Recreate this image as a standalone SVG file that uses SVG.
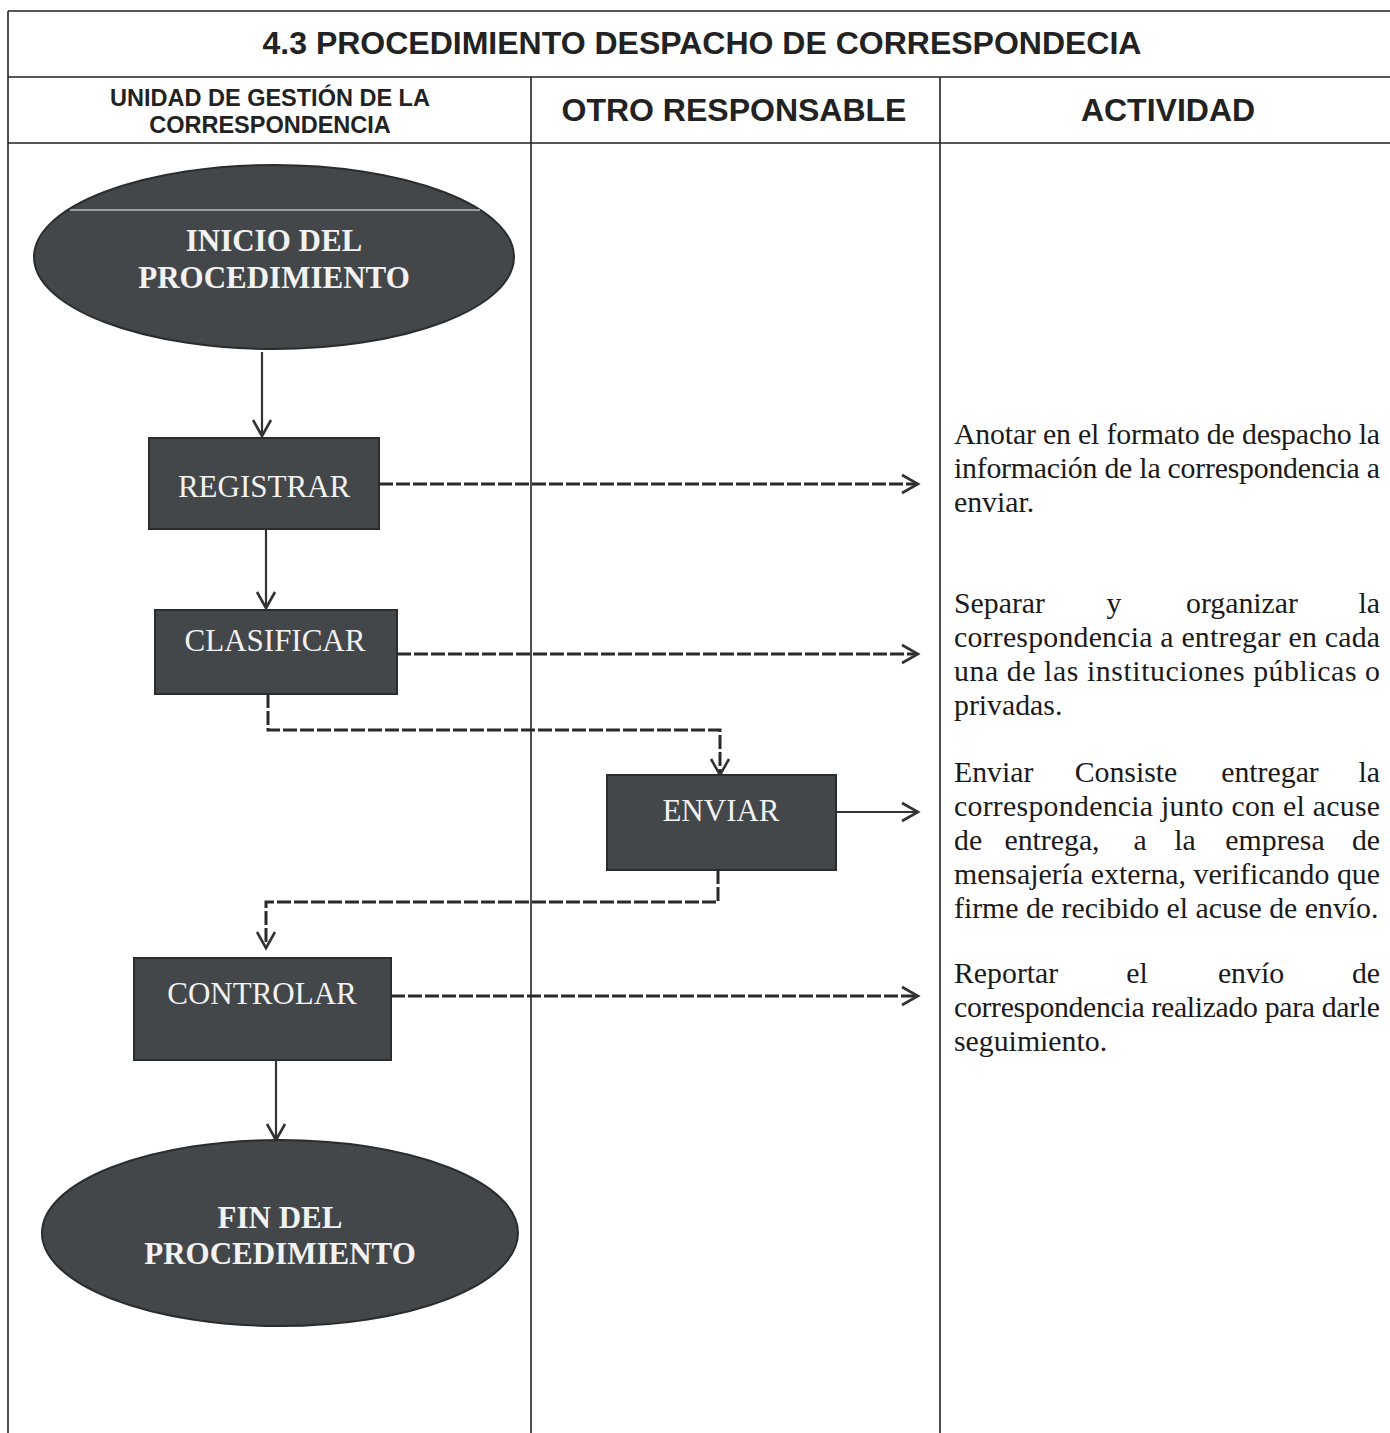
<svg xmlns="http://www.w3.org/2000/svg" width="1390" height="1433" viewBox="0 0 1390 1433">
<style>
.grid{stroke:#222;stroke-width:1.6;fill:none}
.hd{font-family:"Liberation Sans",Arial,sans-serif;font-weight:bold;fill:#222;text-anchor:middle}
.node{fill:#43474a;stroke:#2a2c2e;stroke-width:2}
.nt{font-family:"Liberation Serif","Times New Roman",serif;fill:#f2f2f2;text-anchor:middle;font-size:31px}
.act{font-family:"Liberation Serif","Times New Roman",serif;font-size:29.8px;fill:#1a1a1a}
.mid{text-anchor:middle}
.end{text-anchor:end}
.solid{stroke:#333;stroke-width:2.2;fill:none}
.dash{stroke:#2a2a2a;stroke-width:3;fill:none;stroke-dasharray:14 3}
</style>
<defs>
<marker id="ah" viewBox="0 0 24 24" refX="21" refY="12" markerWidth="24" markerHeight="24" markerUnits="userSpaceOnUse" orient="auto">
<path d="M5,3 L21,12 L5,21" fill="none" stroke="#333" stroke-width="2.6"/>
</marker>
</defs>
<rect width="1390" height="1433" fill="#ffffff"/>
<g id="table">
<path class="grid" d="M8,11 H1390 M8,11 V1433 M8,77 H1390 M8,143 H1390 M531,77 V1433 M940,77 V1433"/>
<text class="hd" x="702" y="54" font-size="32">4.3 PROCEDIMIENTO DESPACHO DE CORRESPONDECIA</text>
<text class="hd" x="270" y="106" font-size="23.5">UNIDAD DE GESTIÓN DE LA</text>
<text class="hd" x="270" y="133" font-size="23.5">CORRESPONDENCIA</text>
<text class="hd" x="734" y="121" font-size="32">OTRO RESPONSABLE</text>
<text class="hd" x="1168" y="121" font-size="32">ACTIVIDAD</text>
</g>
<g id="connectors">
<path class="solid" d="M262,352 V436" marker-end="url(#ah)"/>
<path class="solid" d="M266,529 V608" marker-end="url(#ah)"/>
<path class="dash" d="M379,484 H918" marker-end="url(#ah)"/>
<path class="dash" d="M397,654 H918" marker-end="url(#ah)"/>
<path class="dash" d="M268,694 V730 H720 V775" marker-end="url(#ah)"/>
<path class="solid" d="M836,812 H918" marker-end="url(#ah)"/>
<path class="dash" d="M718,870 V902 H266 V948" marker-end="url(#ah)"/>
<path class="dash" d="M391,996 H918" marker-end="url(#ah)"/>
<path class="solid" d="M276,1060 V1140" marker-end="url(#ah)"/>
</g>
<g id="inicio">
<ellipse class="node" cx="274" cy="257" rx="240" ry="92"/>
<line x1="70" y1="210" x2="480" y2="210" stroke="#9a9c9e" stroke-width="2"/>
<text class="nt" x="274" y="251" font-weight="bold">INICIO DEL</text>
<text class="nt" x="274" y="288" font-weight="bold">PROCEDIMIENTO</text>
</g>
<g id="registrar">
<rect class="node" x="149" y="438" width="230" height="91"/>
<text class="nt" x="264" y="497">REGISTRAR</text>
</g>
<g id="clasificar">
<rect class="node" x="155" y="610" width="242" height="84"/>
<text class="nt" x="275" y="651">CLASIFICAR</text>
</g>
<g id="enviar">
<rect class="node" x="607" y="775" width="229" height="95"/>
<text class="nt" x="721" y="821">ENVIAR</text>
</g>
<g id="controlar">
<rect class="node" x="134" y="958" width="257" height="102"/>
<text class="nt" x="262" y="1004">CONTROLAR</text>
</g>
<g id="fin">
<ellipse class="node" cx="280" cy="1233" rx="238" ry="93"/>
<text class="nt" x="280" y="1228" font-weight="bold">FIN DEL</text>
<text class="nt" x="280" y="1264" font-weight="bold">PROCEDIMIENTO</text>
</g>
<g id="actividades">
<text class="act" x="954" y="444" textLength="426" lengthAdjust="spacing">Anotar en el formato de despacho la</text>
<text class="act" x="954" y="478" textLength="426" lengthAdjust="spacing">información de la correspondencia a</text>
<text class="act" x="954" y="512">enviar.</text>
<text class="act" y="613"><tspan x="954">Separar</tspan><tspan class="mid" x="1114">y</tspan><tspan class="mid" x="1242">organizar</tspan><tspan class="end" x="1380">la</tspan></text>
<text class="act" x="954" y="647" textLength="426" lengthAdjust="spacing">correspondencia a entregar en cada</text>
<text class="act" x="954" y="681" textLength="426" lengthAdjust="spacing">una de las instituciones públicas o</text>
<text class="act" x="954" y="715">privadas.</text>
<text class="act" y="782"><tspan x="954">Enviar</tspan><tspan class="mid" x="1126">Consiste</tspan><tspan class="mid" x="1270">entregar</tspan><tspan class="end" x="1380">la</tspan></text>
<text class="act" x="954" y="816" textLength="426" lengthAdjust="spacing">correspondencia junto con el acuse</text>
<text class="act" y="850"><tspan x="954">de</tspan><tspan class="mid" x="1052">entrega,</tspan><tspan class="mid" x="1140">a</tspan><tspan class="mid" x="1185">la</tspan><tspan class="mid" x="1275">empresa</tspan><tspan class="end" x="1380">de</tspan></text>
<text class="act" x="954" y="884" textLength="426" lengthAdjust="spacing">mensajería externa, verificando que</text>
<text class="act" x="954" y="918">firme de recibido el acuse de envío.</text>
<text class="act" y="983"><tspan x="954">Reportar</tspan><tspan class="mid" x="1137">el</tspan><tspan class="mid" x="1251">envío</tspan><tspan class="end" x="1380">de</tspan></text>
<text class="act" x="954" y="1017" textLength="426" lengthAdjust="spacing">correspondencia realizado para darle</text>
<text class="act" x="954" y="1051">seguimiento.</text>
</g>
</svg>
